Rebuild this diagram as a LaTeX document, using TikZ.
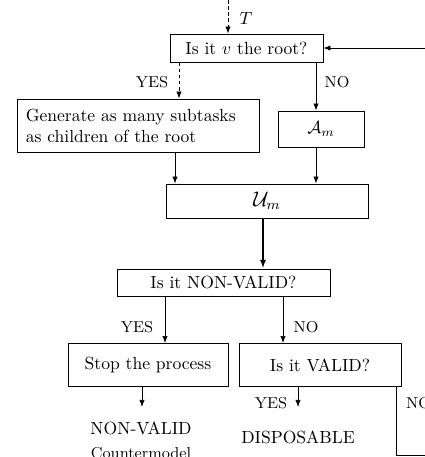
\documentclass[tikz,border=0pt]{standalone}
\usepackage{amsmath, amssymb}
\usepackage{tikz}
\usetikzlibrary{arrows.meta,positioning,calc}
\tikzset{
  box/.style={draw, line width=0.5pt, align=center, inner sep=3pt},
  lab/.style={font=\small, inner sep=1pt},
  outtext/.style={inner sep=1pt},
  arrow/.style={-{Latex[length=4pt,width=3pt]}, line width=0.4pt},
  finedash/.style={dash pattern=on 2pt off 1.5pt}
}

\begin{document}
\begin{tikzpicture}[x=0.02cm, y=-0.02cm]
    \useasboundingbox (0,0) rectangle (424,457);
    % Boxes
    \node[box, minimum width=3.06cm, minimum height=0.56cm] (root) at (246.5,48) {Is it $v$ the root?};
    \node[box, align=left, inner xsep=5pt, text width=4.49cm, minimum height=1.06cm] (gen) at (138,125.5)
      {Generate as many subtasks\\as children of the root};
    \node[box, minimum width=1.72cm, minimum height=0.72cm] (am) at (321,129) {$\mathcal{A}_m$};
    \node[box, minimum width=4.04cm, minimum height=0.68cm] (um) at (267,201) {\large$\mathcal{U}_m$};
    \node[box, minimum width=4.26cm, minimum height=0.54cm] (nonvalid) at (223.5,282.5) {Is it NON-VALID?};
    \node[box, minimum width=3.2cm, minimum height=0.86cm] (stop) at (148,365) {Stop the process};
    \node[box, minimum width=3.24cm, minimum height=0.86cm] (valid) at (320,365) {Is it VALID?};
    % Results
    \node[outtext] (nvout) at (141,428) {NON-VALID};
    \node[outtext, font=\small] (cmout) at (141,453) {Countermodel};
    \node[outtext] (dispout) at (298,437) {DISPOSABLE};
    % Coordinates of the vertical lines
    \coordinate (tin) at (228,0);
    \coordinate (xa) at (179,0);
    \coordinate (xb) at (316,0);
    \coordinate (xc) at (175,0);
    \coordinate (xd) at (263,0);
    \coordinate (xe) at (165,0);
    \coordinate (xf) at (283,0);
    \coordinate (e1) at (142,407);
    \coordinate (e2) at (298,407);
    \coordinate (xg) at (396,0);
    \coordinate (back) at (440,455);
    % Connectors
    \draw[arrow, finedash] (tin) -- (tin |- root.north);
    \draw[arrow, finedash] (root.south -| xa) -- (gen.north -| xa);
    \draw[arrow] (root.south -| xb) -- (am.north -| xb);
    \draw[arrow] (gen.south -| xc) -- (um.north -| xc);
    \draw[arrow] (am.south -| xb) -- (um.north -| xb);
    \draw[-{Latex[length=5pt,width=3.5pt]}, line width=1pt] (um.south -| xd) -- (nonvalid.north -| xd);
    \draw[arrow] (nonvalid.south -| xe) -- (stop.north -| xe);
    \draw[arrow] (nonvalid.south -| xf) -- (valid.north -| xf);
    \draw[arrow] (stop.south -| e1) -- (e1);
    \draw[arrow] (valid.south -| e2) -- (e2);
    \draw[arrow] (valid.south -| xg) -- (xg |- back) -- (back) -- (back |- root.east) -- (root.east);
    % Labels
    \node[inner sep=1pt] (tlab) at (246,18) {$T$};
    \node[lab] (yes1) at (152,82) {YES};
    \node[lab] (no1) at (337,82) {NO};
    \node[lab] (yes2) at (137,327) {YES};
    \node[lab] (no2) at (306,327) {NO};
    \node[lab] (yes3) at (271,403) {YES};
    \node[lab, anchor=west] (no3) at (404,403) {NO};
\end{tikzpicture}
\end{document}
